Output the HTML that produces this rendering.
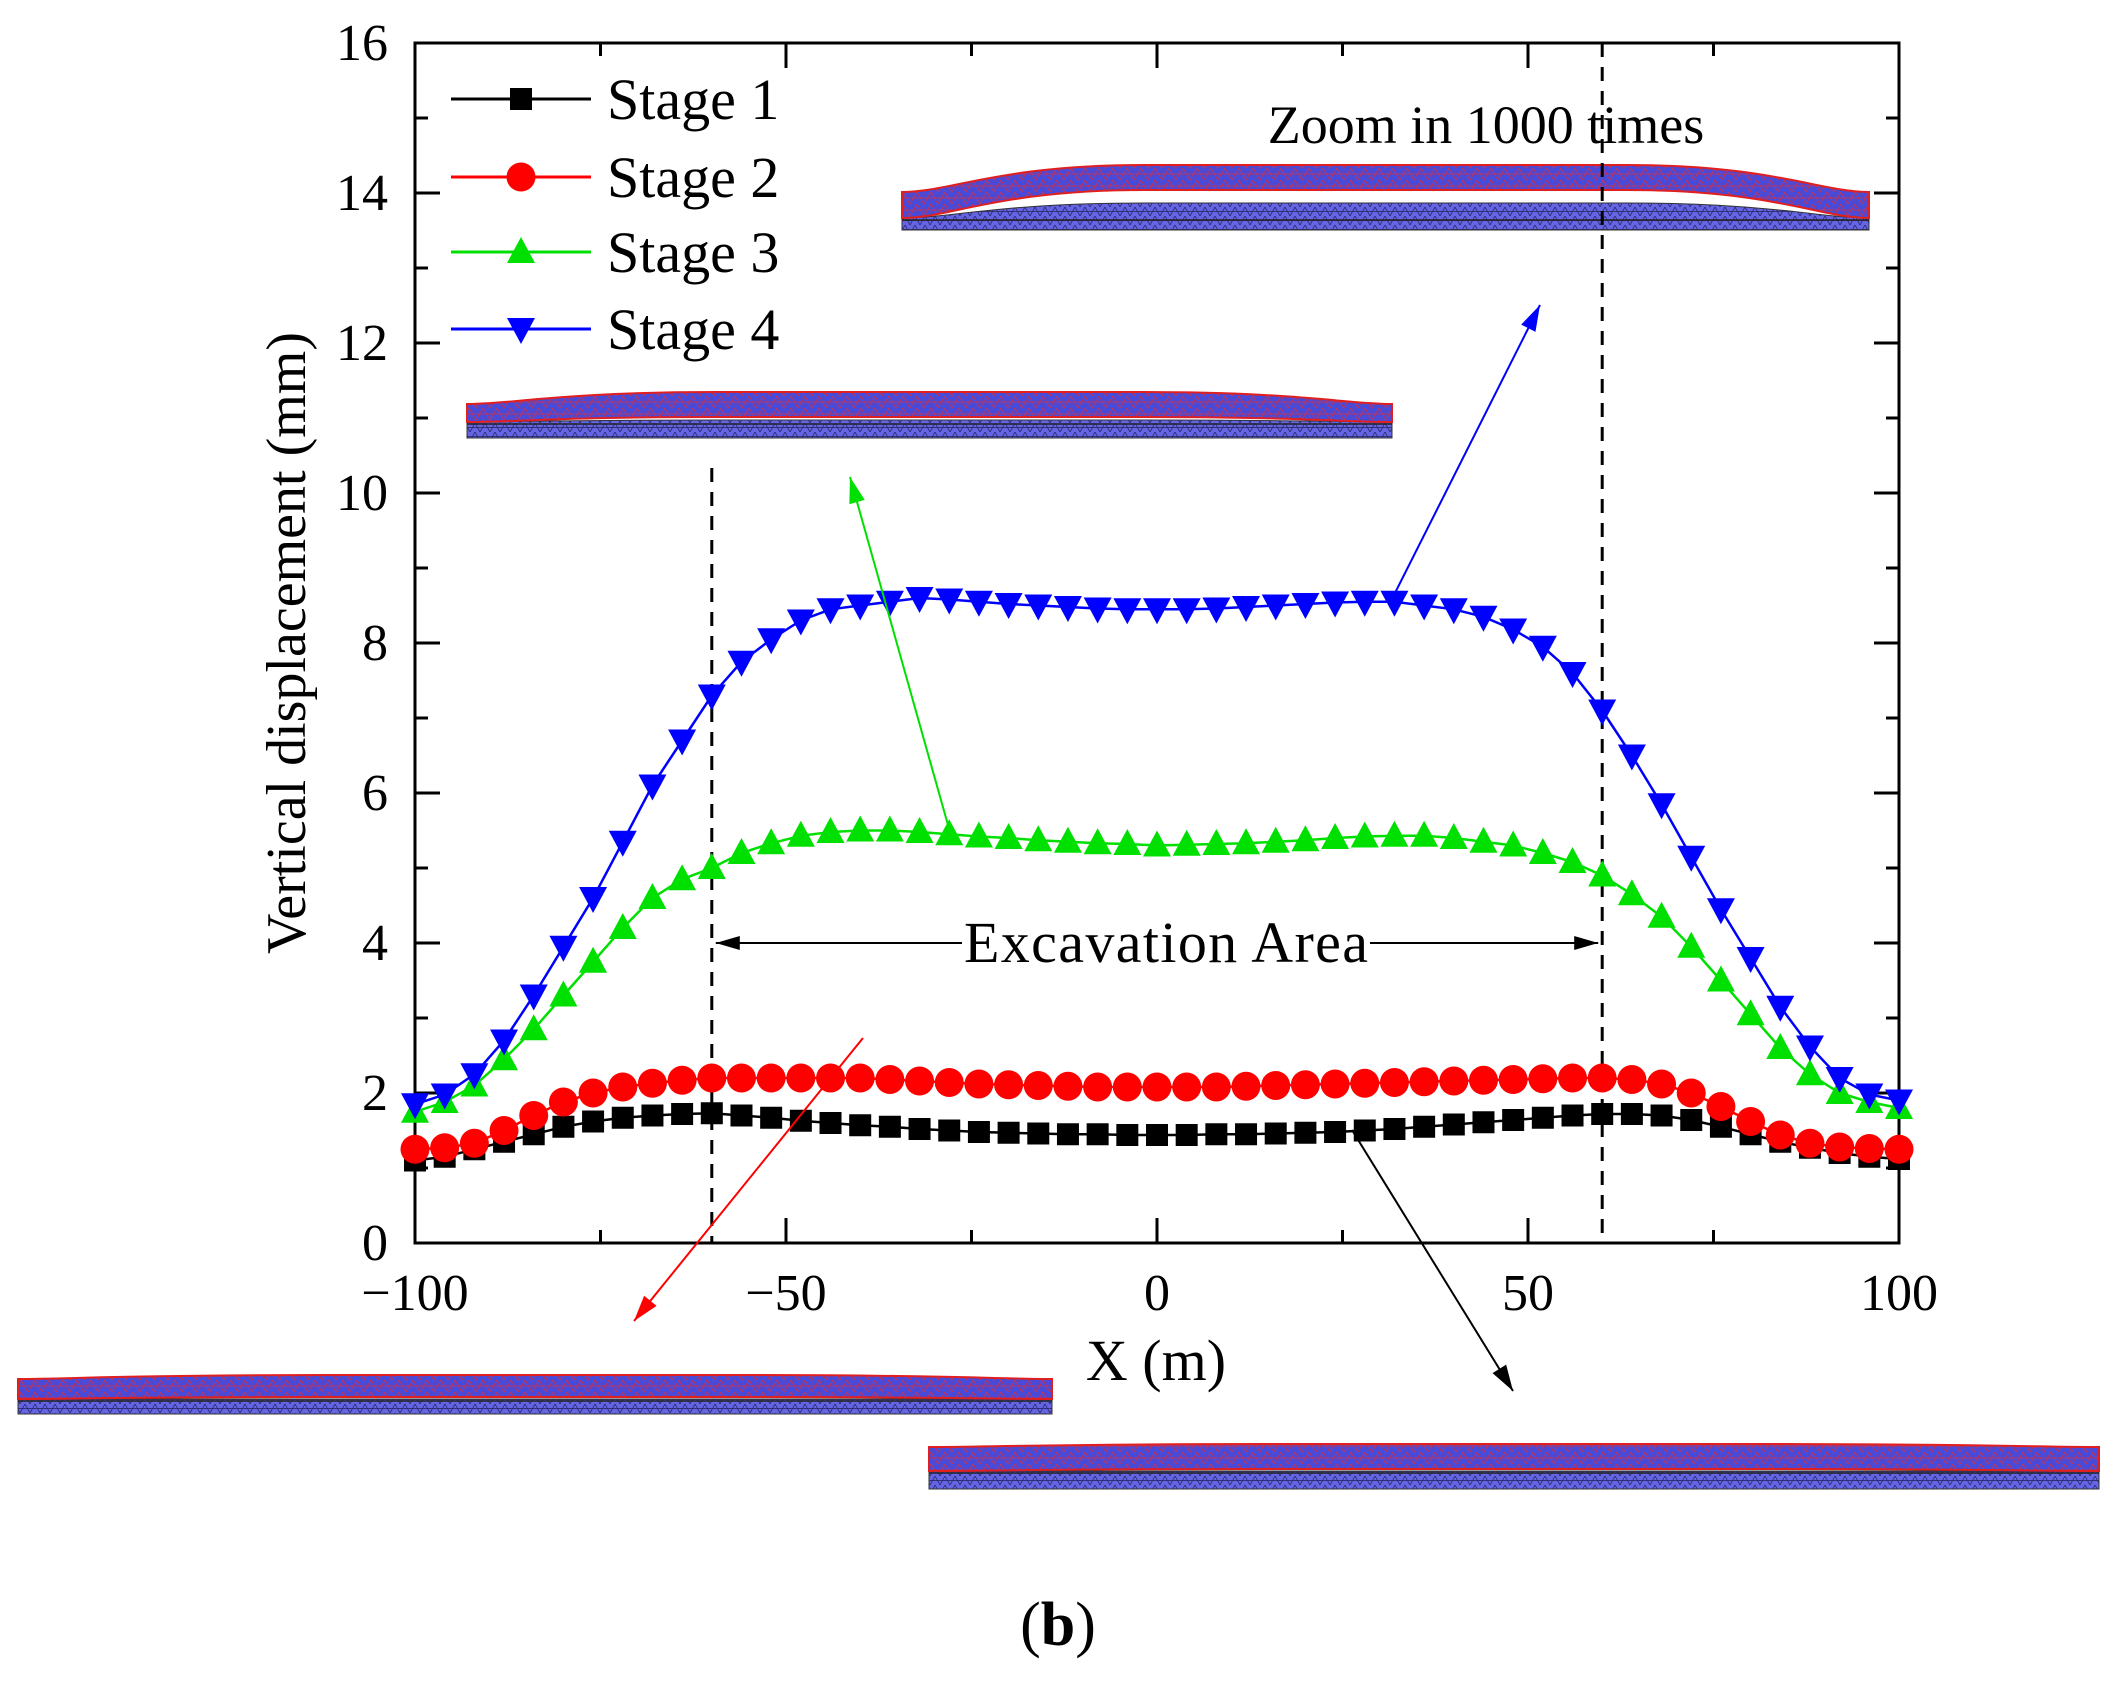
<!DOCTYPE html>
<html><head><meta charset="utf-8">
<style>
html,body{margin:0;padding:0;background:#fff;}
svg{display:block;}
svg text{font-family:"Liberation Serif","Times New Roman",serif;}
</style></head>
<body>
<svg id="chart" width="2114" height="1688" viewBox="0 0 2114 1688" xmlns="http://www.w3.org/2000/svg" font-family="Liberation Serif, serif">
<defs>
<pattern id="meshA" width="14" height="12" patternUnits="userSpaceOnUse">
<rect width="14" height="12" fill="#4a4ad6"/>
<path d="M0 12 L7 0 L14 12 M0 6 L14 6" stroke="#d0304a" stroke-width="0.8" fill="none"/>
</pattern>
<pattern id="meshB" width="10" height="9" patternUnits="userSpaceOnUse">
<rect width="10" height="9" fill="#6464e4"/>
<path d="M0 9 L5 0 L10 9 M0 4.5 L10 4.5" stroke="#22225a" stroke-width="0.7" fill="none"/>
</pattern>
</defs>
<g id="insets"></g>
<g id="plot"></g>
<g id="marks"></g>
<g id="annot"></g>
</svg>
<script>
const xVals = [-100,-96,-92,-88,-84,-80,-76,-72,-68,-64,-60,-56,-52,-48,-44,-40,-36,-32,-28,-24,-20,-16,-12,-8,-4,0,4,8,12,16,20,24,28,32,36,40,44,48,52,56,60,64,68,72,76,80,84,88,92,96,100];
const stage1 = [1.1,1.15,1.25,1.35,1.45,1.55,1.62,1.67,1.7,1.72,1.73,1.7,1.67,1.63,1.6,1.57,1.55,1.52,1.5,1.48,1.47,1.46,1.45,1.45,1.44,1.44,1.44,1.45,1.45,1.46,1.47,1.48,1.5,1.52,1.55,1.58,1.61,1.64,1.67,1.7,1.72,1.72,1.7,1.64,1.55,1.45,1.35,1.27,1.2,1.15,1.12];
const stage2 = [1.25,1.27,1.33,1.5,1.7,1.88,2.0,2.08,2.13,2.17,2.2,2.2,2.2,2.2,2.2,2.2,2.18,2.16,2.14,2.12,2.11,2.1,2.09,2.08,2.08,2.08,2.08,2.08,2.09,2.1,2.11,2.12,2.13,2.14,2.15,2.16,2.17,2.18,2.19,2.2,2.2,2.18,2.12,2.0,1.82,1.62,1.44,1.33,1.28,1.26,1.25];
const stage3 = [1.75,1.88,2.1,2.45,2.85,3.3,3.75,4.2,4.6,4.85,5.0,5.2,5.33,5.43,5.48,5.5,5.5,5.48,5.45,5.42,5.4,5.37,5.35,5.33,5.32,5.3,5.31,5.32,5.33,5.35,5.37,5.4,5.42,5.43,5.43,5.4,5.35,5.3,5.2,5.08,4.9,4.65,4.35,3.95,3.5,3.05,2.6,2.25,2.0,1.88,1.8];
const stage4 = [1.85,1.98,2.25,2.7,3.3,3.95,4.6,5.35,6.1,6.7,7.3,7.75,8.05,8.3,8.45,8.5,8.55,8.6,8.58,8.55,8.52,8.5,8.48,8.46,8.45,8.45,8.45,8.46,8.48,8.5,8.52,8.54,8.55,8.55,8.5,8.45,8.35,8.18,7.95,7.6,7.1,6.5,5.85,5.15,4.45,3.8,3.15,2.62,2.2,1.98,1.9];
const yTicks = [0,2,4,6,8,10,12,14,16];
const xTicks = [-100,-50,0,50,100];
const seriesNames = ["Stage 1","Stage 2","Stage 3","Stage 4"];

const NS = "http://www.w3.org/2000/svg";
const L = 415, R = 1899, T = 43, B = 1243;
const X0 = -100, X1 = 100, Y0 = 0, Y1 = 16;
const sx = v => L + (v - X0) / (X1 - X0) * (R - L);
const sy = v => B - (v - Y0) / (Y1 - Y0) * (B - T);

function mk(tag, attrs, parent) {
  const e = document.createElementNS(NS, tag);
  for (const k in attrs) e.setAttribute(k, attrs[k]);
  parent.appendChild(e);
  return e;
}
const plot = document.getElementById('plot');
const marks = document.getElementById('marks');
const annot = document.getElementById('annot');
const insets = document.getElementById('insets');

function inset(name, x0, x1, topEnd, topMid, upBotEnd, upBotMid, lowTop, lowBot, rise) {
  const g = mk('g', {}, insets);
  
  
  const w = x1 - x0;
  const a = x0 + w * rise[0], b = x0 + w * rise[1], c = x0 + w * rise[2], d = x0 + w * rise[3];
  mk('path', {d:`M${x0} ${upBotEnd} C${(x0+a)/2} ${upBotEnd} ${a} ${lowTop} ${b} ${lowTop} L${c} ${lowTop} C${d} ${lowTop} ${(d+x1)/2} ${upBotEnd} ${x1} ${upBotEnd} L${x1} ${lowBot} L${x0} ${lowBot} Z`, fill:'url(#meshB)', stroke:'#333', 'stroke-width':1}, g);
  mk('path', {d:`M${x0} ${topEnd} C${(x0+a)/2} ${topEnd} ${a} ${topMid} ${b} ${topMid} L${c} ${topMid} C${d} ${topMid} ${(d+x1)/2} ${topEnd} ${x1} ${topEnd} L${x1} ${upBotEnd} C${(d+x1)/2} ${upBotEnd} ${d} ${upBotMid} ${c} ${upBotMid} L${b} ${upBotMid} C${a} ${upBotMid} ${(x0+a)/2} ${upBotEnd} ${x0} ${upBotEnd} Z`, fill:'url(#meshA)', stroke:'#e02020', 'stroke-width':2}, g);
  mk('line', {x1:x0, y1:upBotEnd+2, x2:x1, y2:upBotEnd+2, stroke:'#222', 'stroke-width':1.5}, g);
}
inset('inset-stage4', 902, 1869, 192, 165, 218, 190, 203, 230, [0.1, 0.25, 0.75, 0.9]);
inset('inset-stage3', 467, 1392, 404, 392, 422, 417, 420, 438, [0.1, 0.27, 0.73, 0.9]);
inset('inset-stage2', 18, 1052, 1379, 1375, 1399, 1397, 1399, 1414, [0.1, 0.3, 0.7, 0.9]);
inset('inset-stage1', 929, 2099, 1447, 1444, 1471, 1469, 1471, 1489, [0.1, 0.3, 0.7, 0.9]);

const dl = mk('line', {x1:sx(-60), y1:468, x2:sx(-60), y2:B, stroke:'#000', 'stroke-width':3, 'stroke-dasharray':'14 10'}, plot);


const dr = mk('line', {x1:sx(60), y1:T, x2:sx(60), y2:B, stroke:'#000', 'stroke-width':3, 'stroke-dasharray':'14 10'}, plot);



const frame = mk('rect', {x:L, y:T, width:R-L, height:B-T, fill:'none', stroke:'#000', 'stroke-width':3}, plot);



for (let v = 0; v <= 16; v += 1) {
  const major = v % 2 === 0, len = major ? 25 : 13;
  mk('line', {x1:L, y1:sy(v), x2:L+len, y2:sy(v), stroke:'#000', 'stroke-width':3}, plot);
  mk('line', {x1:R, y1:sy(v), x2:R-len, y2:sy(v), stroke:'#000', 'stroke-width':3}, plot);
}
yTicks.forEach(v => {
  const t = mk('text', {x:388, y:sy(v)+17, 'text-anchor':'end', 'font-size':52, fill:'#000'}, plot);
  t.textContent = String(v);
  
  
});
for (let v = -100; v <= 100; v += 25) {
  const major = v % 50 === 0, len = major ? 25 : 13;
  mk('line', {x1:sx(v), y1:B, x2:sx(v), y2:B-len, stroke:'#000', 'stroke-width':3}, plot);
  mk('line', {x1:sx(v), y1:T, x2:sx(v), y2:T+len, stroke:'#000', 'stroke-width':3}, plot);
}
xTicks.forEach(v => {
  const t = mk('text', {x:sx(v), y:1310, 'text-anchor':'middle', 'font-size':52, fill:'#000'}, plot);
  t.textContent = (v < 0 ? '\u2212' : '') + Math.abs(v);
  
  
});
const xt = mk('text', {x:1156, y:1380, 'text-anchor':'middle', 'font-size':58, fill:'#000'}, plot);
xt.textContent = 'X (m)';


const yt = mk('text', {x:0, y:0, 'text-anchor':'middle', 'font-size':56, fill:'#000', transform:'translate(305,643) rotate(-90)'}, plot);
yt.textContent = 'Vertical displacement (mm)';



function marker(kind, cx, cy, color, parent) {
  if (kind === 'square') return mk('rect', {x:cx-11, y:cy-11, width:22, height:22, fill:color}, parent);
  if (kind === 'circle') return mk('circle', {cx:cx, cy:cy, r:14.5, fill:color}, parent);
  if (kind === 'up') return mk('path', {d:`M${cx} ${cy-15} L${cx+14} ${cy+11} L${cx-14} ${cy+11} Z`, fill:color}, parent);
  return mk('path', {d:`M${cx} ${cy+15} L${cx+14} ${cy-11} L${cx-14} ${cy-11} Z`, fill:color}, parent);
}
const seriesVals = [stage1, stage2, stage3, stage4];
const colors = ['#000000', '#ff0000', '#00e000', '#0000ff'];
const kinds = ['square', 'circle', 'up', 'down'];
[0, 1, 2, 3].forEach(i => {
  const g = mk('g', {}, marks);
  
  
  const pts = xVals.map((x, j) => sx(x).toFixed(1) + ',' + sy(seriesVals[i][j]).toFixed(1)).join(' ');
  const pl = mk('polyline', {points:pts, fill:'none', stroke:colors[i], 'stroke-width':2.5}, g);
  
  
  xVals.forEach((x, j) => {
    const m = marker(kinds[i], sx(x), sy(seriesVals[i][j]), colors[i], g);
    
    
  });
});

const lg = mk('g', {}, annot);


const legY = [99, 177, 252, 329];
seriesNames.forEach((n, i) => {
  const e = mk('g', {}, lg);
  
  
  mk('line', {x1:451, y1:legY[i], x2:591, y2:legY[i], stroke:colors[i], 'stroke-width':3}, e);
  marker(kinds[i], 521, legY[i], colors[i], e);
  const t = mk('text', {x:607, y:legY[i]+20, 'font-size':58, fill:'#000'}, e);
  t.textContent = n;
});

function arrow(name, x1, y1, x2, y2, color) {
  const g = mk('g', {}, annot);
  
  
  mk('line', {x1:x1, y1:y1, x2:x2, y2:y2, stroke:color, 'stroke-width':2}, g);
  const a = Math.atan2(y2-y1, x2-x1), h = 26, w = 8;
  const bx = x2 - h*Math.cos(a), by = y2 - h*Math.sin(a);
  mk('path', {d:`M${x2} ${y2} L${bx - w*Math.sin(a)} ${by + w*Math.cos(a)} L${bx + w*Math.sin(a)} ${by - w*Math.cos(a)} Z`, fill:color}, g);
}
arrow('arrow-stage4', 1395, 593, 1540, 305, '#0000ff');
arrow('arrow-stage3', 948, 825, 850, 477, '#00e000');
arrow('arrow-stage2', 863, 1038, 634, 1321, '#ff0000');
arrow('arrow-stage1', 1352, 1130, 1513, 1391, '#000000');

const ex = mk('g', {}, annot);


mk('line', {x1:sx(-60)+4, y1:sy(4), x2:962, y2:sy(4), stroke:'#000', 'stroke-width':2}, ex);
mk('line', {x1:1370, y1:sy(4), x2:sx(60)-4, y2:sy(4), stroke:'#000', 'stroke-width':2}, ex);
mk('path', {d:`M${sx(-60)+4} ${sy(4)} l24 -7 l0 14 Z`, fill:'#000'}, ex);
mk('path', {d:`M${sx(60)-4} ${sy(4)} l-24 -7 l0 14 Z`, fill:'#000'}, ex);
const et = mk('text', {x:1166, y:sy(4)+19, 'text-anchor':'middle', 'font-size':58, 'textLength':404, fill:'#000'}, ex);
et.textContent = 'Excavation Area';

const zt = mk('text', {x:1486, y:143, 'text-anchor':'middle', 'font-size':54, fill:'#000'}, annot);
zt.textContent = 'Zoom in 1000 times';



const pb = mk('text', {x:1058, y:1645, 'text-anchor':'middle', 'font-size':62, fill:'#000'}, annot);
pb.innerHTML = '(<tspan font-weight="bold">b</tspan>)';


</script>
</body></html>
